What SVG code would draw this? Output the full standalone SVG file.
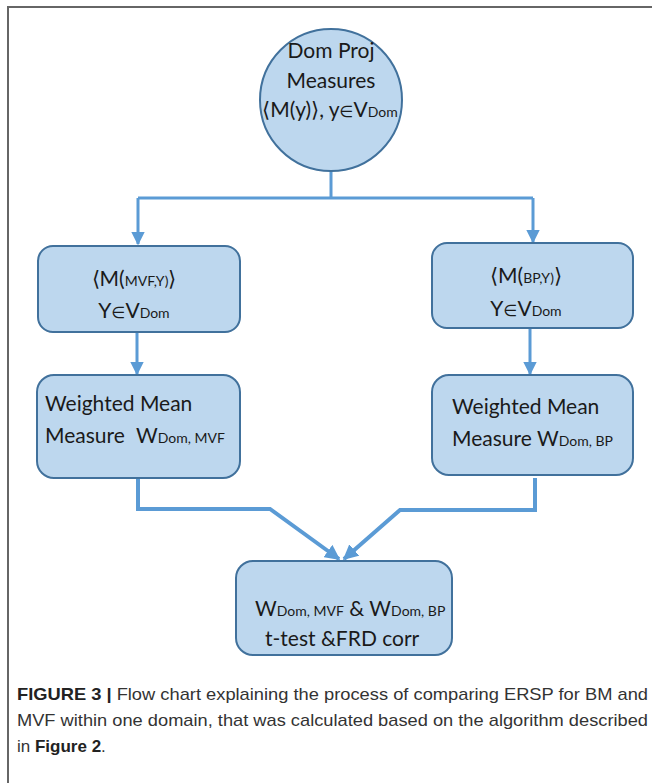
<svg xmlns="http://www.w3.org/2000/svg" width="652" height="783" viewBox="0 0 652 783">
<defs>
<style>
.node{fill:#BDD7EE;stroke:#41719C;stroke-width:2}
.t{font-family:Lato,"Open Sans","Liberation Sans",sans-serif;font-size:21px;fill:#1a1a1a}
.s{font-size:14px}
.e{font-family:"DejaVu Sans",sans-serif;font-size:16px}
.c{stroke:#5B9BD5;stroke-width:3;fill:none}
.ck{stroke:#5B9BD5;stroke-width:4;fill:none}
.cap{font-family:"Liberation Sans",Arial,sans-serif;font-size:17px;fill:#333}
</style>
<marker id="ah" viewBox="0 0 10 10" refX="9" refY="5" markerWidth="4.5" markerHeight="4.5" orient="auto" markerUnits="strokeWidth">
<path d="M0,0 L10,5 L0,10 z" fill="#5B9BD5"/>
</marker>
<marker id="ah2" viewBox="0 0 10 10" refX="9" refY="5" markerWidth="3.8" markerHeight="3.8" orient="auto" markerUnits="strokeWidth">
<path d="M0,0 L10,5 L0,10 z" fill="#5B9BD5"/>
</marker>
</defs>
<rect width="652" height="783" fill="#fff"/>
<path d="M8,783 V7 H652" fill="none" stroke="#666" stroke-width="2"/>
<g id="connectors">
<path class="c" d="M331,171 V198"/>
<path class="c" d="M138,198 H533"/>
<path class="c" d="M138,198 V244" marker-end="url(#ah)"/>
<path class="c" d="M533,198 V242" marker-end="url(#ah)"/>
<path class="c" d="M137,332 V374" marker-end="url(#ah)"/>
<path class="c" d="M530,329 V374" marker-end="url(#ah)"/>
<path class="ck" d="M138,478 V509 H270 L339,559" marker-end="url(#ah2)"/>
<path class="ck" d="M535,478 V510 H400 L344,559" marker-end="url(#ah2)"/>
</g>
<g id="dom-proj">
<circle class="node" cx="331" cy="100" r="71"/>
<text class="t" x="331" y="58" text-anchor="middle">Dom Proj</text>
<text class="t" x="331" y="88" text-anchor="middle">Measures</text>
<text class="t" x="330" y="117" text-anchor="middle">⟨M(y)⟩, y<tspan class="e">∈</tspan>V<tspan class="s">Dom</tspan></text>
</g>
<g id="m-mvf">
<rect class="node" x="38" y="246" width="202" height="86" rx="15"/>
<text class="t" x="134" y="286" text-anchor="middle">⟨M(<tspan class="s">MVF,Y)</tspan>⟩</text>
<text class="t" x="134" y="318" text-anchor="middle">Y<tspan class="e">∈</tspan>V<tspan class="s">Dom</tspan></text>
</g>
<g id="m-bp">
<rect class="node" x="432" y="243" width="201" height="85" rx="15"/>
<text class="t" x="526" y="283" text-anchor="middle">⟨M(<tspan class="s">BP,Y)</tspan>⟩</text>
<text class="t" x="526" y="316" text-anchor="middle">Y<tspan class="e">∈</tspan>V<tspan class="s">Dom</tspan></text>
</g>
<g id="wm-mvf">
<rect class="node" x="37" y="375" width="203" height="103" rx="17"/>
<text class="t" x="45" y="411">Weighted Mean</text>
<text class="t" x="45" y="443">Measure <tspan dx="6">W</tspan><tspan class="s">Dom, MVF</tspan></text>
</g>
<g id="wm-bp">
<rect class="node" x="432" y="375" width="201" height="100" rx="17"/>
<text class="t" x="452" y="414">Weighted Mean</text>
<text class="t" x="452" y="446">Measure W<tspan class="s">Dom, BP</tspan></text>
</g>
<g id="ttest">
<rect class="node" x="236" y="561" width="216" height="94" rx="17"/>
<text class="t" x="255" y="616">W<tspan class="s">Dom, MVF</tspan> &amp; W<tspan class="s">Dom, BP</tspan></text>
<text class="t" x="265" y="646">t-test &amp;FRD corr</text>
</g>
<g id="caption">
<text class="cap" x="17" y="700" textLength="631" lengthAdjust="spacingAndGlyphs"><tspan font-weight="bold" fill="#222">FIGURE 3 |</tspan> Flow chart explaining the process of comparing ERSP for BM and</text>
<text class="cap" x="17" y="726" textLength="631" lengthAdjust="spacingAndGlyphs">MVF within one domain, that was calculated based on the algorithm described</text>
<text class="cap" x="17" y="752">in <tspan font-weight="bold" fill="#222">Figure 2</tspan>.</text>
</g>
</svg>
